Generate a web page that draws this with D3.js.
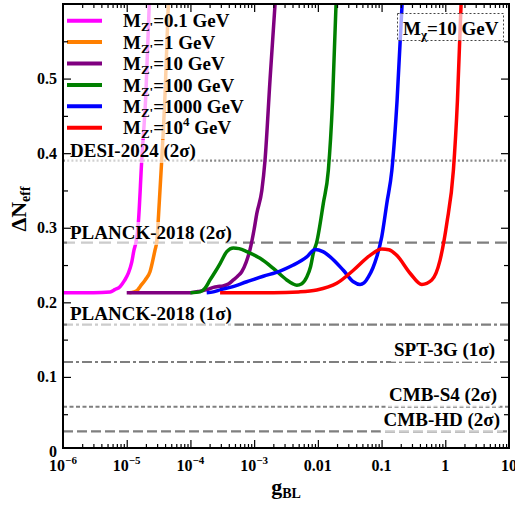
<!DOCTYPE html>
<html><head><meta charset="utf-8">
<script src="https://cdn.jsdelivr.net/npm/d3@7"></script>
<style>
body{margin:0;background:#fff}
svg{display:block}
text{font-family:"Liberation Serif","Times New Roman",serif;font-weight:bold;fill:#000}
</style>
</head><body>
<svg id="c" width="515" height="507"></svg>
<script>
// ---------------- data ----------------
const xTicks = [1e-6, 1e-5, 1e-4, 1e-3, 0.01, 0.1, 1, 10];
const xTickLabels = ["10^-6", "10^-5", "10^-4", "10^-3", "0.01", "0.1", "1", "10"];
const yTicks = [0, 0.1, 0.2, 0.3, 0.4, 0.5];
const yTickLabels = ["0", "0.1", "0.2", "0.3", "0.4", "0.5"];

const massLabels = ["0.1", "1", "10", "100", "1000", "10^4"];

const gM01 = [1e-6, 3e-6, 5.5e-6, 6.5e-6, 7.85e-6, 9.2e-6, 1.06e-5, 1.2e-5, 1.30e-5, 1.40e-5, 1.52e-5, 1.72e-5, 2.0e-5, 2.26e-5];
const dnM01 = [0.213, 0.213, 0.214, 0.217, 0.221, 0.229, 0.239, 0.254, 0.270, 0.281, 0.306, 0.39, 0.48, 0.60];

const gM1 = [1.1e-5, 1.3e-5, 1.5e-5, 1.62e-5, 1.95e-5, 2.32e-5, 2.78e-5, 2.96e-5, 3.25e-5, 3.54e-5, 4.0e-5, 4.5e-5];
const dnM1 = [0.213, 0.214, 0.217, 0.221, 0.230, 0.241, 0.270, 0.281, 0.335, 0.39, 0.48, 0.60];

const gM10 = [1.0e-5, 1.0e-4, 1.42e-4, 1.80e-4, 2.29e-4, 2.59e-4, 3.25e-4, 4.0e-4, 4.71e-4, 5.5e-4, 6.38e-4, 7.5e-4, 8.63e-4, 1.0e-3, 1.10e-3, 1.32e-3, 1.48e-3, 1.78e-3, 2.13e-3];
const dnM10 = [0.213, 0.213, 0.215, 0.217, 0.220, 0.221, 0.222, 0.225, 0.230, 0.235, 0.241, 0.254, 0.271, 0.298, 0.319, 0.35, 0.39, 0.50, 0.60];

const gM100 = [1.0e-4, 1.42e-4, 1.7e-4, 2.03e-4, 2.45e-4, 2.92e-4, 3.72e-4, 4.71e-4, 5.8e-4, 7.66e-4, 1.24e-3, 2.0e-3, 3.25e-3, 4.0e-3, 4.67e-3, 5.6e-3, 6.70e-3, 7.7e-3, 8.49e-3, 9.62e-3, 1.22e-2, 1.46e-2, 1.7e-2, 1.93e-2];
const dnM100 = [0.213, 0.214, 0.219, 0.230, 0.241, 0.252, 0.268, 0.273, 0.272, 0.268, 0.259, 0.2455, 0.230, 0.225, 0.223, 0.225, 0.234, 0.248, 0.266, 0.281, 0.333, 0.377, 0.47, 0.60];

const gM1000 = [1.8e-4, 2.29e-4, 3.0e-4, 4.19e-4, 7.66e-4, 1.39e-3, 2.55e-3, 4.12e-3, 6.70e-3, 9.04e-3, 1.2e-2, 1.56e-2, 2.51e-2, 3.61e-2, 4.59e-2, 5.3e-2, 6.21e-2, 7.3e-2, 8.41e-2, 0.1007, 0.121, 0.145, 0.175, 0.21];
const dnM1000 = [0.213, 0.214, 0.217, 0.220, 0.2276, 0.235, 0.242, 0.250, 0.261, 0.271, 0.268, 0.261, 0.243, 0.2276, 0.224, 0.226, 0.234, 0.246, 0.261, 0.288, 0.333, 0.377, 0.47, 0.60];

const gM1e4 = [2.92e-4, 2e-3, 5e-3, 9.62e-3, 1.98e-2, 3.61e-2, 6.59e-2, 0.1007, 0.13, 0.173, 0.28, 0.428, 0.614, 0.828, 1.057, 1.34, 1.55, 1.77];
const dnM1e4 = [0.213, 0.213, 0.214, 0.2165, 0.2255, 0.243, 0.263, 0.2715, 0.2705, 0.263, 0.239, 0.224, 0.230, 0.2567, 0.306, 0.377, 0.47, 0.60];

const refNames = ["DESI-2024 (2σ)", "PLANCK-2018 (2σ)", "PLANCK-2018 (1σ)", "SPT-3G (1σ)", "CMB-S4 (2σ)", "CMB-HD (2σ)"];
const refValues = [0.39, 0.28, 0.17, 0.12, 0.06, 0.027];

const chiLabel = "10 GeV";

// ---------------- styles ----------------
const seriesColors = ["#ff00ff", "#ff7f00", "#800080", "#008000", "#0000ff", "#ff0000"];
const refDash = ["2,2.2", "12,6", "10,3,3,3", "10,3,3,3", "4,2.5", "10,4"];
const refColor = ["#8a8a8a", "#7f7f7f", "#7f7f7f", "#7f7f7f", "#7f7f7f", "#7f7f7f"];
const refLabelPos = [ // [anchor, x, baseline]
  ["start", 70, 157], ["start", 70, 239], ["start", 70, 320],
  ["end", 495, 356], ["end", 497, 401], ["end", 500, 426]
];

const series = [
  {g: gM01, dn: dnM01}, {g: gM1, dn: dnM1}, {g: gM10, dn: dnM10},
  {g: gM100, dn: dnM100}, {g: gM1000, dn: dnM1000}, {g: gM1e4, dn: dnM1e4}
];

// ---------------- layout ----------------
const L = 63, R = 509, T = 4, B = 448;
const svg = d3.select("#c");
const x = d3.scaleLog().domain([1e-6, 10]).range([L, R]);
const y = d3.scaleLinear().domain([0, 0.6]).range([451.5, T]);

svg.append("defs").append("clipPath").attr("id", "clip")
  .append("rect").attr("x", L).attr("y", T).attr("width", R - L).attr("height", B - T);

// reference lines
const gRef = svg.append("g").attr("clip-path", "url(#clip)");
refValues.forEach((v, i) => {
  gRef.append("line")
    .attr("x1", L).attr("x2", R).attr("y1", y(v)).attr("y2", y(v))
    .attr("stroke", refColor[i]).attr("stroke-width", 2.2)
    .attr("stroke-dasharray", refDash[i]);
});

// curves
const line = d3.line().x(d => x(d[0])).y(d => y(d[1])).curve(d3.curveMonotoneX);
const gCurves = svg.append("g").attr("clip-path", "url(#clip)");
series.forEach((s, i) => {
  const pts = s.g.map((g, j) => [g, s.dn[j]]);
  gCurves.append("path").datum(pts).attr("d", line)
    .attr("fill", "none").attr("stroke", seriesColors[i]).attr("stroke-width", 3.5)
    .attr("stroke-linejoin", "round").attr("stroke-linecap", "butt");
});

// reference labels with translucent boxes
const gLab = svg.append("g");
refNames.forEach((n, i) => {
  const [anchor, tx, ty] = refLabelPos[i];
  const bg = gLab.append("rect");
  const t = gLab.append("text").attr("x", tx).attr("y", ty)
    .attr("text-anchor", anchor).attr("font-size", 19).text(n);
  const bb = t.node().getBBox();
  bg.attr("x", bb.x - 3).attr("y", bb.y).attr("width", bb.width + 6).attr("height", bb.height + 1)
    .attr("fill", "#fff").attr("fill-opacity", 0.6);
});

// legend
const gLeg = svg.append("g");
gLeg.append("rect").attr("x", L + 1).attr("y", T + 1).attr("width", 186).attr("height", 134)
  .attr("fill", "#fff").attr("fill-opacity", 0.65);
massLabels.forEach((m, i) => {
  const ly = 20.7 + i * 21.4;
  gLeg.append("line").attr("x1", 67).attr("x2", 102).attr("y1", ly).attr("y2", ly)
    .attr("stroke", seriesColors[i]).attr("stroke-width", 4);
  const t = gLeg.append("text").attr("x", 123).attr("y", ly + 6.6).attr("font-size", 19);
  t.append("tspan").text("M");
  t.append("tspan").attr("font-size", 13).attr("dy", 4).text("Z'");
  if (m.includes("^")) {
    const [b, e] = m.split("^");
    t.append("tspan").attr("dy", -4).text("=" + b);
    t.append("tspan").attr("font-size", 13).attr("dy", -8).text(e);
    t.append("tspan").attr("dy", 8).text(" GeV");
  } else {
    t.append("tspan").attr("dy", -4).text("=" + m + " GeV");
  }
});

// M_chi box
const gChi = svg.append("g");
gChi.append("rect").attr("x", 397.5).attr("y", 13.5).attr("width", 106).attr("height", 27)
  .attr("fill", "#fff").attr("fill-opacity", 0.65)
  .attr("stroke", "#444").attr("stroke-width", 1).attr("stroke-dasharray", "2,2");
const tc = gChi.append("text").attr("x", 403).attr("y", 35).attr("font-size", 19);
tc.append("tspan").text("M");
tc.append("tspan").attr("font-size", 13).attr("dy", 4).text("χ");
tc.append("tspan").attr("dy", -4).text("=" + chiLabel);

// frame
svg.append("rect").attr("x", L).attr("y", T).attr("width", R - L).attr("height", B - T)
  .attr("fill", "none").attr("stroke", "#000").attr("stroke-width", 2);

// ticks
const minorX = [];
for (let d = 1e-6; d < 10; d *= 10) for (let k = 2; k <= 9; k++) minorX.push(+(k * d).toPrecision(3));
const majorY = yTicks.filter(v => v > 0);
const minorY = [0.05, 0.15, 0.25, 0.35, 0.45, 0.55];

function axisTicks(axisGen, tr, vals, size) {
  const g = svg.append("g").attr("transform", tr)
    .call(axisGen.tickValues(vals).tickSize(-size).tickFormat(""));
  g.select(".domain").remove();
  g.selectAll("line").attr("stroke", "#000").attr("stroke-width", 1.2);
}
axisTicks(d3.axisBottom(x), `translate(0,${B})`, xTicks.slice(1, -1), 8);
axisTicks(d3.axisBottom(x), `translate(0,${B})`, minorX, 4);
axisTicks(d3.axisTop(x), `translate(0,${T})`, xTicks.slice(1, -1), 8);
axisTicks(d3.axisTop(x), `translate(0,${T})`, minorX, 4);
axisTicks(d3.axisLeft(y), `translate(${L},0)`, majorY, 8);
axisTicks(d3.axisLeft(y), `translate(${L},0)`, minorY, 5);
axisTicks(d3.axisRight(y), `translate(${R},0)`, majorY, 8);
axisTicks(d3.axisRight(y), `translate(${R},0)`, minorY, 5);

// x tick labels
xTicks.forEach((v, i) => {
  const lab = xTickLabels[i];
  const t = svg.append("text").attr("x", x(v)).attr("y", 471)
    .attr("text-anchor", "middle").attr("font-size", 16);
  if (lab.includes("^")) {
    const [b, e] = lab.split("^");
    t.append("tspan").text(b);
    t.append("tspan").attr("font-size", 11).attr("dy", -7).text(e.replace("-", "\u2212"));
  } else t.text(lab);
});

// y tick labels
yTicks.forEach((v, i) => {
  svg.append("text").attr("x", 57).attr("y", y(v) + 5.5)
    .attr("text-anchor", "end").attr("font-size", 16).text(yTickLabels[i]);
});

// axis titles
const xt = svg.append("text").attr("x", 286).attr("y", 494).attr("text-anchor", "middle").attr("font-size", 22);
xt.append("tspan").text("g");
xt.append("tspan").attr("font-size", 14).attr("dy", 4).text("BL");

const yt = svg.append("text").attr("transform", "translate(26,209) rotate(-90)")
  .attr("text-anchor", "middle").attr("font-size", 22);
yt.append("tspan").text("ΔN");
yt.append("tspan").attr("font-size", 14).attr("dy", 4).text("eff");
</script>
</body></html>
